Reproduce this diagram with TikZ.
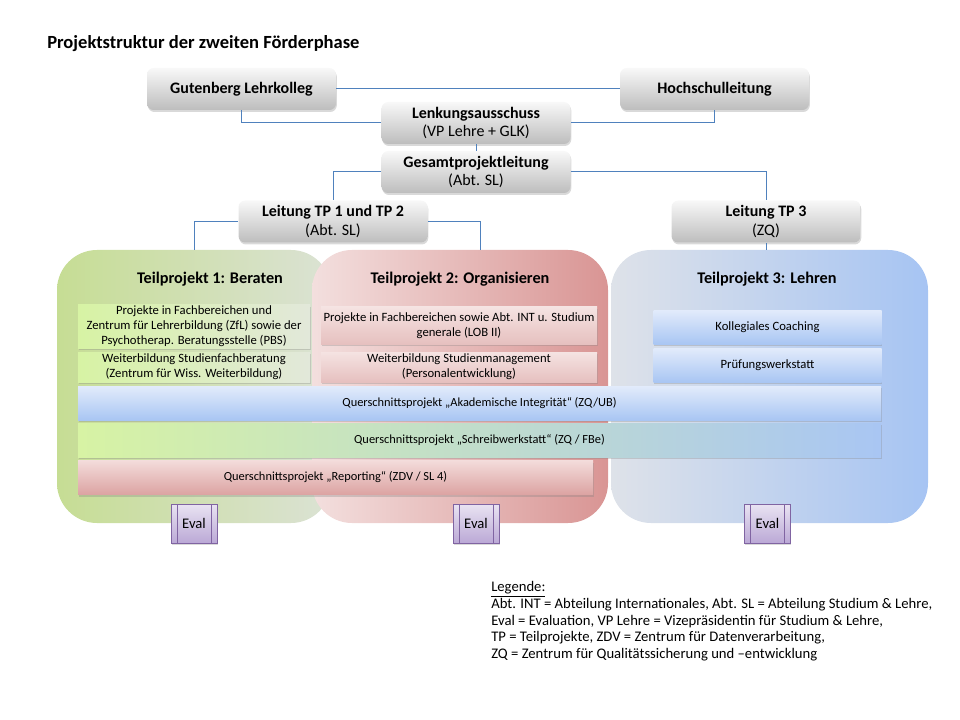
\documentclass[tikz,border=0pt]{standalone}
\usepackage{fontspec}
\setmainfont{Carlito}
\usetikzlibrary{positioning,shadows}
\definecolor{linblue}{HTML}{4F81BD}
\definecolor{headT}{HTML}{F8F8F8}
\definecolor{headB}{HTML}{BDBDBD}
\definecolor{grnL}{HTML}{C6DD94}
\definecolor{grnM}{HTML}{E2F2C6}
\definecolor{grnR}{HTML}{DBE2D4}
\definecolor{redL}{HTML}{F3DFDE}
\definecolor{redM}{HTML}{E8C2C1}
\definecolor{redR}{HTML}{D99594}
\definecolor{bluL}{HTML}{DEE2E9}
\definecolor{bluM}{HTML}{C6D5EE}
\definecolor{bluR}{HTML}{A6C4F3}
\definecolor{subgrnL}{HTML}{D7F3A4}
\definecolor{subgrnR}{HTML}{E2E8DA}
\definecolor{subredT}{HTML}{F5E3E2}
\definecolor{subredB}{HTML}{E6C0BF}
\definecolor{subbluT}{HTML}{E2EBFB}
\definecolor{subbluB}{HTML}{A9C6F3}
\definecolor{schrM}{HTML}{E4EEEA}
\definecolor{repT}{HTML}{F3DCDB}
\definecolor{repB}{HTML}{DCA3A2}
\definecolor{evalT}{HTML}{E9E3F2}
\definecolor{evalB}{HTML}{BBA9D6}
\definecolor{evalE}{HTML}{8064A2}
\tikzset{
	link/.style={draw=linblue,line width=0.75pt},
	shade/.style={drop shadow={shadow xshift=0.6pt,shadow yshift=-1.5pt,opacity=0.3}},
	head/.style={shade,rounded corners=5pt,top color=headT,bottom color=headB,
		minimum width=141.75pt,minimum height=31.5pt,align=center,inner sep=0pt,
		font=\fontsize{12}{14}\selectfont},
	panel/.style={rounded corners=30pt,minimum height=204.75pt,inner sep=0pt},
	ptitle/.style={font=\bfseries\fontsize{12.2}{14}\selectfont},
	sub/.style={shade,minimum height=22.5pt,align=center,inner sep=0pt,
		font=\fontsize{9.5}{11.2}\selectfont},
	qs/.style={sub,minimum height=25.5pt,font=\fontsize{9.3}{11}\selectfont},
	eval/.style={shade,draw=evalE,line width=0.6pt,top color=evalT,bottom color=evalB,
		minimum width=34.5pt,minimum height=29.25pt,font=\fontsize{11}{13}\selectfont,
		path picture={
			\draw[evalE,line width=0.6pt] ([xshift=4.5pt]path picture bounding box.north west) -- ([xshift=4.5pt]path picture bounding box.south west);
			\draw[evalE,line width=0.6pt] ([xshift=-4.5pt]path picture bounding box.north east) -- ([xshift=-4.5pt]path picture bounding box.south east);
		}},
}

\begin{document}
\begin{tikzpicture}[x=0.75pt,y=-0.75pt]
	\useasboundingbox (0,0) rectangle (960,720);
	\node[font=\bfseries\fontsize{13.9}{16}\selectfont,anchor=west,inner sep=0pt] (ttl) at (47,44) {Projektstruktur der zweiten Förderphase};

	% Teilprojekte
	\node[panel,minimum width=205.5pt,left color=grnL,middle color=grnM,right color=grnR] (tp1) at (194,386.5) {};
	\node[panel,minimum width=222pt,left color=redL,middle color=redM,right color=redR] (tp2) at (460,386.5) {};
	\node[panel,minimum width=237.75pt,left color=bluL,middle color=bluM,right color=bluR] (tp3) at (769.5,386.5) {};
	\node[ptitle] (tp1t) at (210,279) {Teilprojekt 1: Beraten};
	\node[ptitle] (tp2t) at (460,279) {Teilprojekt 2: Organisieren};
	\node[ptitle] (tp3t) at (767,279) {Teilprojekt 3: Lehren};

	% Leitung
	\node[head] (gl) at (241.5,89) {\textbf{Gutenberg Lehrkolleg}};
	\node[head] (hl) at (714.5,89) {\textbf{Hochschulleitung}};
	\node[head] (la) at (476,123) {\textbf{Lenkungsausschuss}\\(VP Lehre + GLK)};
	\node[head] (gp) at (476,172) {\textbf{Gesamtprojektleitung}\\(Abt. SL)};
	\node[head] (l12) at (333,221.5) {\textbf{Leitung TP 1 und TP 2}\\(Abt. SL)};
	\node[head] (l3) at (766,221.5) {\textbf{Leitung TP 3}\\(ZQ)};
	\coordinate (t1in) at (194,250);
	\coordinate (t2in) at (480,250);

	\draw[link] (gl) -- (hl);
	\draw[link] (gl.south) |- (la.west);
	\draw[link] (hl.south) |- (la.east);
	\draw[link] (la) -- (gp);
	\draw[link] (gp.west) -| (l12.north);
	\draw[link] (gp.east) -| (l3.north);
	\draw[link] (l12.west) -| (t1in);
	\draw[link] (l12.east) -| (t2in);
	\draw[link] (l3.south) -- (l3.south |- tp3.north);

	% Projekte
	\node[sub,minimum width=174pt,minimum height=32.25pt,left color=subgrnL,right color=subgrnR] (p11) at (194,326.5) {Projekte in Fachbereichen und\\Zentrum für Lehrerbildung (ZfL) sowie der\\Psychotherap. Beratungsstelle (PBS)};
	\node[sub,minimum width=174pt,left color=subgrnL,right color=subgrnR] (p12) at (194,367) {Weiterbildung Studienfachberatung\\(Zentrum für Wiss. Weiterbildung)};
	\node[sub,minimum width=207pt,minimum height=27.75pt,top color=subredT,bottom color=subredB] (p21) at (459,325.5) {Projekte in Fachbereichen sowie Abt. INT u. Studium\\generale (LOB II)};
	\node[sub,minimum width=207pt,top color=subredT,bottom color=subredB] (p22) at (459,367) {Weiterbildung Studienmanagement\\(Personalentwicklung)};
	\node[sub,minimum width=171pt,minimum height=25.5pt,top color=subbluT,bottom color=subbluB] (p31) at (767.5,327) {Kollegiales Coaching};
	\node[sub,minimum width=171pt,minimum height=25.5pt,top color=subbluT,bottom color=subbluB] (p32) at (767.5,365) {Prüfungswerkstatt};

	% Querschnittsprojekte
	\node[qs,minimum width=602.25pt,top color=subbluT,bottom color=subbluB] (qai) at (479.5,403) {Querschnittsprojekt „Akademische Integrität“ (ZQ/UB)};
	\node[qs,minimum width=602.25pt,left color=subgrnL,middle color=schrM,right color=subbluB] (qsw) at (479.5,440) {Querschnittsprojekt „Schreibwerkstatt“ (ZQ / FBe)};
	\node[qs,minimum width=386.25pt,top color=repT,bottom color=repB] (qrp) at (335.5,477.5) {Querschnittsprojekt „Reporting“ (ZDV / SL 4)};

	% Evaluation
	\node[eval] (ev1) at (194,523.5) {Eval};
	\node[eval] (ev2) at (476,523.5) {Eval};
	\node[eval] (ev3) at (767.5,523.5) {Eval};

	% Legende
	\node[anchor=north west,align=left,inner sep=0pt,font=\fontsize{11}{12.6}\selectfont] (leg) at (491,581) {\underline{Legende:}\\
		Abt. INT = Abteilung Internationales, Abt. SL = Abteilung Studium \& Lehre,\\
		Eval = Evaluation, VP Lehre = Vizepräsidentin für Studium \& Lehre,\\
		TP = Teilprojekte, ZDV = Zentrum für Datenverarbeitung,\\
		ZQ = Zentrum für Qualitätssicherung und –entwicklung};
\end{tikzpicture}
\end{document}
